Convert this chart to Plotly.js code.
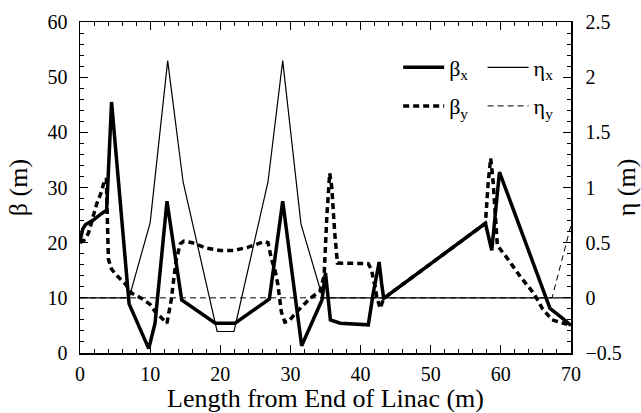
<!DOCTYPE html>
<html>
<head>
<meta charset="utf-8">
<script src="https://cdn.plot.ly/plotly-3.0.1.min.js"></script>
<style>html,body{margin:0;padding:0;background:#fff;}#chart{width:641px;height:413px;}</style>
</head>
<body>
<div id="chart"></div>
<script>
// beta_x (m), thick solid
const betaXs = [0, 0.4, 0.8, 1.9, 3.1, 3.8, 4.5, 7.0, 9.8, 10.7, 12.4, 14.5, 19.3, 22.1, 27.0, 28.9, 31.6, 34.5, 35.0, 35.7, 37.1, 41.1, 41.8, 42.3, 42.65, 43.0, 43.3, 57.8, 58.7, 59.8, 67.0, 68.5, 70.0];
const betaXv = [20.3, 22.5, 23.3, 24.1, 25.3, 25.9, 45.5, 8.9, 0.8, 5.4, 27.5, 9.6, 5.4, 5.4, 9.8, 27.5, 1.3, 9.6, 14.5, 6.0, 5.4, 5.1, 10.8, 14.7, 16.5, 12.6, 9.9, 23.5, 18.6, 32.8, 8.1, 6.6, 5.0];

// beta_y (m), thick dashed
const betaYs = [0, 0.6, 1.2, 1.9, 2.4, 3.0, 3.5, 3.75, 3.9, 4.05, 4.5, 5.2, 6.4, 7.4, 8.8, 10.0, 10.7, 11.9, 12.4, 13.0, 13.7, 14.3, 14.8, 16.0, 18.0, 20.0, 22.0, 24.0, 26.3, 26.8, 27.3, 27.8, 28.2, 28.7, 29.2, 29.8, 30.7, 32.8, 34.2, 34.8, 35.2, 35.6, 35.9, 36.3, 36.7, 41.1, 41.6, 41.8, 42.1, 42.3, 42.8, 43.3, 57.8, 58.2, 58.55, 58.9, 59.2, 59.5, 60.9, 62.8, 64.7, 65.9, 67.3, 68.5, 70.0];
const betaYv = [20.0, 20.5, 21.7, 25.0, 27.1, 29.0, 31.3, 31.6, 24.7, 17.0, 15.2, 14.1, 12.6, 10.8, 9.9, 8.8, 7.5, 6.0, 5.4, 9.6, 16.8, 19.8, 20.3, 20.0, 19.0, 18.6, 18.6, 19.2, 20.2, 20.0, 17.0, 15.0, 12.5, 7.5, 5.6, 5.8, 7.2, 9.9, 11.2, 14.0, 25.0, 32.6, 30.0, 22.0, 16.3, 16.2, 15.0, 13.3, 12.0, 10.2, 8.1, 9.9, 23.5, 31.0, 35.3, 31.0, 24.0, 19.5, 17.2, 13.8, 10.8, 8.1, 6.0, 5.5, 5.0];

// eta_x (m), thin solid
const etaXs = [0, 7.0, 10.0, 12.5, 14.7, 19.55, 21.95, 26.8, 28.9, 31.5, 34.6, 70.0];
const etaXv = [0, 0, 0.68, 2.15, 1.05, -0.305, -0.305, 1.05, 2.15, 0.67, 0, 0];

// eta_y (m), thin dashed
const etaYs = [0, 67.3, 70.0];
const etaYv = [0, 0, 0.66];

const xTitle = 'Length from End of Linac (m)';
const yTitle = '\u03b2 (m)';
const y2Title = '\u03b7 (m)';
const serif = '"Liberation Serif", "Times New Roman", serif';

const traces = [
  {x: etaXs, y: etaXv, yaxis: 'y2', mode: 'lines', name: '\u03b7<sub>x</sub>', legend: 'legend2', legendgroup: 'a',
   line: {color: '#000', width: 1.2}},
  {x: etaYs, y: etaYv, yaxis: 'y2', mode: 'lines', name: '\u03b7<sub>y</sub>', legend: 'legend2', legendgroup: 'b',
   line: {color: '#000', width: 1, dash: '6px,4px'}},
  {x: betaXs, y: betaXv, mode: 'lines', name: '\u03b2<sub>x</sub>', legend: 'legend', legendgroup: 'c',
   line: {color: '#000', width: 3.5}},
  {x: betaYs, y: betaYv, mode: 'lines', name: '\u03b2<sub>y</sub>', legend: 'legend', legendgroup: 'd',
   line: {color: '#000', width: 3.5, dash: '6px,4px'}}
];

function axisCommon() {
  return {
    showgrid: false, zeroline: false, showline: true, linecolor: '#000', linewidth: 1.5,
    ticks: 'inside', ticklen: 8, tickwidth: 1.2, tickcolor: '#000',
    tickfont: {family: serif, size: 20, color: '#000'}
  };
}

const layout = {
  width: 641, height: 413,
  margin: {l: 80, r: 70, t: 22, b: 60},
  paper_bgcolor: '#fff', plot_bgcolor: '#fff',
  font: {family: serif, color: '#000'},
  xaxis: Object.assign(axisCommon(), {
    range: [0, 70], dtick: 10, tick0: 0, mirror: 'ticks', ticklabelstandoff: 2,
    minor: {dtick: 2, ticks: 'inside', ticklen: 4, tickcolor: '#000', tickwidth: 1},
    title: {text: xTitle, font: {family: serif, size: 26, color: '#000'}, standoff: 3}
  }),
  yaxis: Object.assign(axisCommon(), {
    range: [0, 60], dtick: 10, tick0: 0, ticklabelstandoff: 7,
    minor: {dtick: 2, ticks: 'inside', ticklen: 4, tickcolor: '#000', tickwidth: 1},
    title: {text: yTitle, font: {family: serif, size: 26, color: '#000'}, standoff: 12}
  }),
  yaxis2: Object.assign(axisCommon(), {
    range: [-0.5, 2.5], dtick: 0.5, tick0: 0, overlaying: 'y', side: 'right', ticklabelstandoff: 9,
    minor: {dtick: 0.1, ticks: 'inside', ticklen: 4, tickcolor: '#000', tickwidth: 1},
    title: {text: y2Title, font: {family: serif, size: 26, color: '#000'}, standoff: 10}
  }),
  legend: {x: 0.648, y: 0.926, xanchor: 'left', yanchor: 'top', bgcolor: 'rgba(0,0,0,0)',
    traceorder: 'grouped', tracegroupgap: 7, itemwidth: 41,
    font: {family: serif, size: 22, color: '#000'}},
  legend2: {x: 0.82, y: 0.926, xanchor: 'left', yanchor: 'top', bgcolor: 'rgba(0,0,0,0)',
    traceorder: 'grouped', tracegroupgap: 7, itemwidth: 41,
    font: {family: serif, size: 22, color: '#000'}},
  showlegend: true
};

Plotly.newPlot('chart', traces, layout, {displayModeBar: false, staticPlot: true});
</script>
</body>
</html>
